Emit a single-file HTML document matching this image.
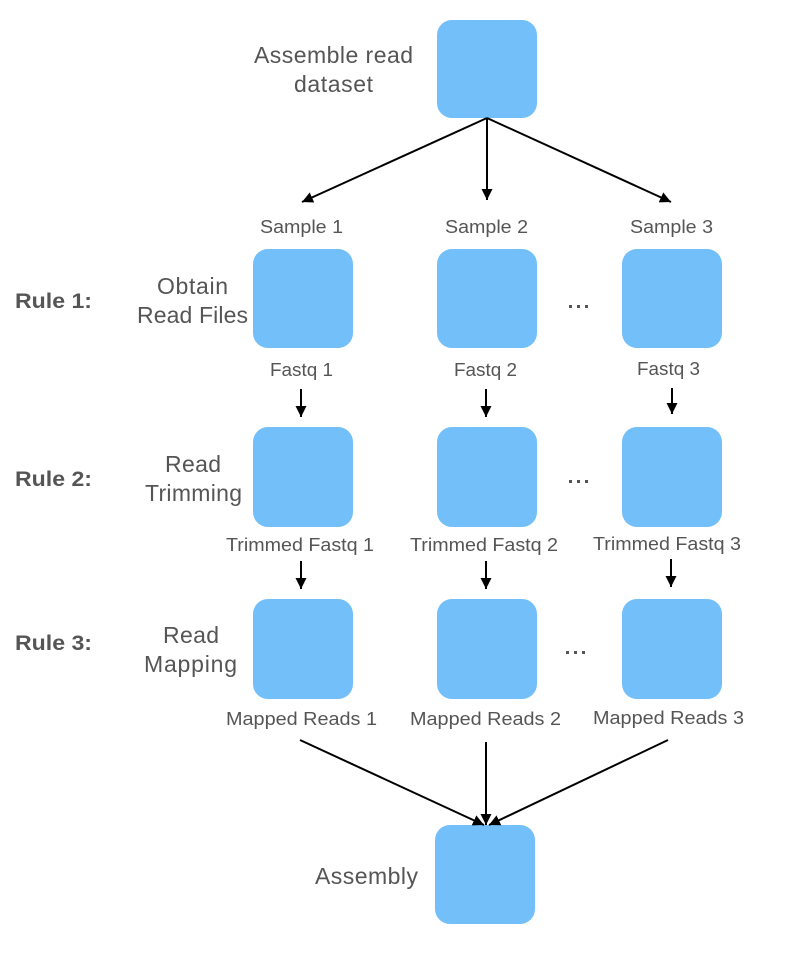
<!DOCTYPE html>
<html><head><meta charset="utf-8"><style>
html,body{margin:0;padding:0;background:#fff;}
svg{display:block;}
text{font-family:"Liberation Sans",Arial,sans-serif;fill:#555;}
</style></head><body>
<svg width="788" height="958" viewBox="0 0 788 958" xmlns="http://www.w3.org/2000/svg">
<defs>
<marker id="a" viewBox="0 0 10 10" refX="10" refY="5" markerWidth="11" markerHeight="11" markerUnits="userSpaceOnUse" orient="auto">
<path d="M0,0 L10,5 L0,10 z" fill="#000"/>
</marker>
</defs>
<g fill="#73BFF9">
<rect x="437" y="20" width="100" height="98" rx="15"/>
<rect x="253" y="249" width="100" height="99" rx="15"/>
<rect x="437" y="249" width="100" height="99" rx="15"/>
<rect x="622" y="249" width="100" height="99" rx="15"/>
<rect x="253" y="427" width="100" height="100" rx="15"/>
<rect x="437" y="427" width="100" height="100" rx="15"/>
<rect x="622" y="427" width="100" height="100" rx="15"/>
<rect x="253" y="599" width="100" height="100" rx="15"/>
<rect x="437" y="599" width="100" height="100" rx="15"/>
<rect x="622" y="599" width="100" height="100" rx="15"/>
<rect x="435" y="825" width="100" height="99" rx="15"/>
</g>
<g stroke="#000" stroke-width="2" fill="none" marker-end="url(#a)">
<line x1="487" y1="118" x2="302" y2="202"/>
<line x1="487" y1="118" x2="487" y2="200"/>
<line x1="487" y1="118" x2="671" y2="202"/>
<line x1="301" y1="389" x2="301" y2="417"/>
<line x1="486" y1="389" x2="486" y2="417"/>
<line x1="672" y1="388" x2="672" y2="414"/>
<line x1="301" y1="561" x2="301" y2="589"/>
<line x1="486" y1="561" x2="486" y2="589"/>
<line x1="671" y1="559" x2="671" y2="587"/>
<line x1="300" y1="740" x2="484" y2="825"/>
<line x1="486" y1="742" x2="486" y2="825"/>
<line x1="668" y1="740" x2="489" y2="825"/>
</g>
<g font-size="23" lengthAdjust="spacingAndGlyphs">
<text x="254" y="63" textLength="159">Assemble read</text>
<text x="294" y="92" textLength="79">dataset</text>
<text x="157" y="294" textLength="71">Obtain</text>
<text x="137" y="323" textLength="111">Read Files</text>
<text x="165" y="472" textLength="56">Read</text>
<text x="145" y="501" textLength="97">Trimming</text>
<text x="163" y="643" textLength="56">Read</text>
<text x="144" y="672" textLength="93">Mapping</text>
<text x="315" y="884" textLength="103">Assembly</text>
</g>
<g font-size="21" font-weight="bold">
<text x="15" y="308" textLength="77" lengthAdjust="spacingAndGlyphs">Rule 1:</text>
<text x="15" y="486" textLength="77" lengthAdjust="spacingAndGlyphs">Rule 2:</text>
<text x="15" y="650" textLength="77" lengthAdjust="spacingAndGlyphs">Rule 3:</text>
</g>
<g font-size="18">
<text x="260" y="233" textLength="83" lengthAdjust="spacingAndGlyphs">Sample 1</text>
<text x="445" y="233" textLength="83" lengthAdjust="spacingAndGlyphs">Sample 2</text>
<text x="630" y="233" textLength="83" lengthAdjust="spacingAndGlyphs">Sample 3</text>
<text x="270" y="376" textLength="63" lengthAdjust="spacingAndGlyphs">Fastq 1</text>
<text x="454" y="376" textLength="63" lengthAdjust="spacingAndGlyphs">Fastq 2</text>
<text x="637" y="375" textLength="63" lengthAdjust="spacingAndGlyphs">Fastq 3</text>
<text x="226" y="551" textLength="148" lengthAdjust="spacingAndGlyphs">Trimmed Fastq 1</text>
<text x="410" y="551" textLength="148" lengthAdjust="spacingAndGlyphs">Trimmed Fastq 2</text>
<text x="593" y="550" textLength="148" lengthAdjust="spacingAndGlyphs">Trimmed Fastq 3</text>
<text x="226" y="725" textLength="151" lengthAdjust="spacingAndGlyphs">Mapped Reads 1</text>
<text x="410" y="725" textLength="151" lengthAdjust="spacingAndGlyphs">Mapped Reads 2</text>
<text x="593" y="724" textLength="151" lengthAdjust="spacingAndGlyphs">Mapped Reads 3</text>
</g>
<g fill="#555">
<rect x="569" y="305" width="3" height="3"/><rect x="577" y="305" width="3" height="3"/><rect x="585" y="305" width="3" height="3"/>
<rect x="569" y="480" width="3" height="3"/><rect x="577" y="480" width="3" height="3"/><rect x="585" y="480" width="3" height="3"/>
<rect x="566" y="651" width="3" height="3"/><rect x="574" y="651" width="3" height="3"/><rect x="582" y="651" width="3" height="3"/>
</g>
</svg>
</body></html>
